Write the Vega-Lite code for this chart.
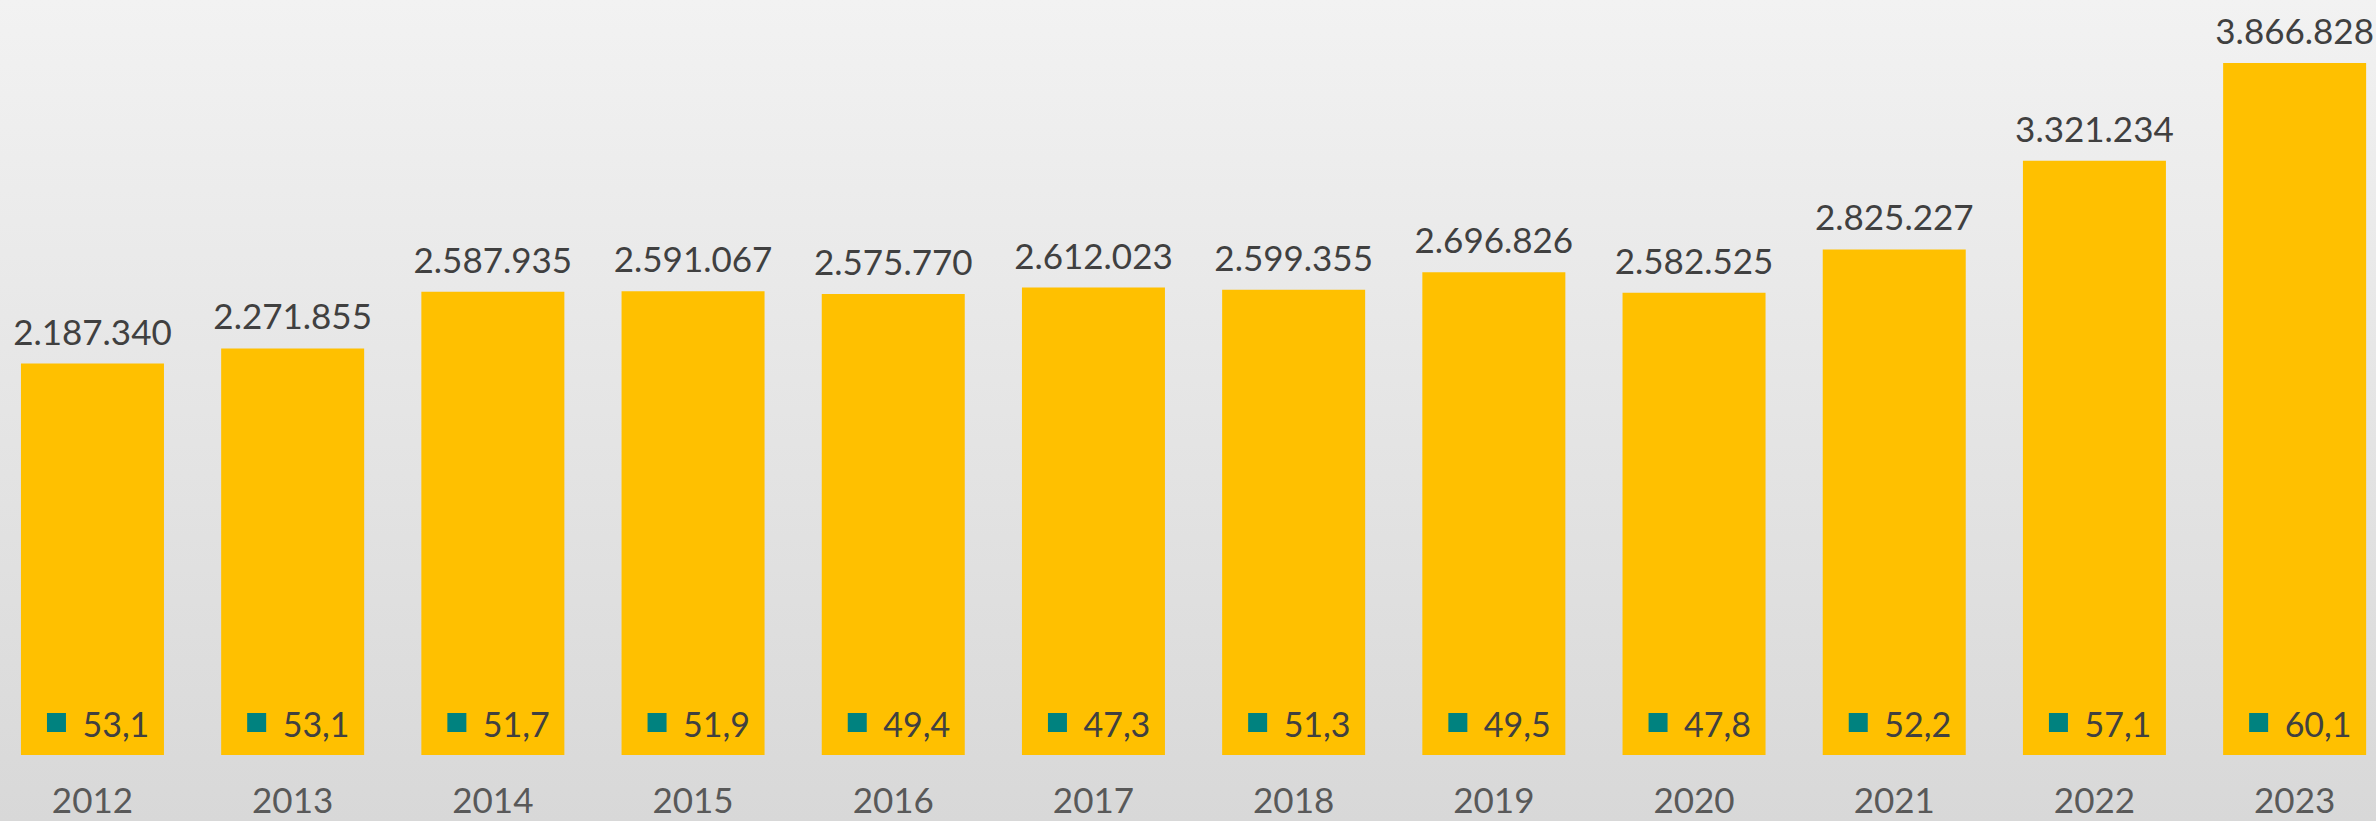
{
  "$schema": "https://vega.github.io/schema/vega-lite/v6.json",
  "width": 2376,
  "height": 821,
  "autosize": {"type": "none"},
  "padding": 0,
  "background": "#E2E2E2",
  "config": {
    "locale": {"number": {"decimal": ",", "thousands": ".", "grouping": [3], "currency": ["", " €"]}},
    "view": {
      "stroke": null,
      "fill": {"gradient": "linear", "x1": 0, "y1": 0, "x2": 0, "y2": 1,
        "stops": [{"offset": 0, "color": "#F2F2F2"}, {"offset": 1, "color": "#D8D8D8"}]}
    },
    "font": "Lato"
  },
  "data": {"values": [
    {"year": "2012", "total": 2187340, "share": 53.1},
    {"year": "2013", "total": 2271855, "share": 53.1},
    {"year": "2014", "total": 2587935, "share": 51.7},
    {"year": "2015", "total": 2591067, "share": 51.9},
    {"year": "2016", "total": 2575770, "share": 49.4},
    {"year": "2017", "total": 2612023, "share": 47.3},
    {"year": "2018", "total": 2599355, "share": 51.3},
    {"year": "2019", "total": 2696826, "share": 49.5},
    {"year": "2020", "total": 2582525, "share": 47.8},
    {"year": "2021", "total": 2825227, "share": 52.2},
    {"year": "2022", "total": 3321234, "share": 57.1},
    {"year": "2023", "total": 3866828, "share": 60.1}
  ]},
  "encoding": {
    "x": {"field": "year", "type": "nominal", "sort": null,
      "scale": {"paddingInner": 0.2857, "paddingOuter": 0.077, "align": 0.68},
      "axis": {"title": null, "domain": false, "ticks": false, "offset": -66,
        "labelFont": "Lato", "labelFontSize": 35, "labelColor": "#595959",
        "labelBaseline": "alphabetic", "labelPadding": 57, "labelAngle": 0}}
  },
  "layer": [
    {
      "mark": {"type": "bar", "color": "#FFC000"},
      "encoding": {
        "y": {"field": "total", "type": "quantitative",
          "scale": {"domain": [-368800, 4218800], "nice": false, "zero": false},
          "axis": null}
      }
    },
    {
      "mark": {"type": "text", "baseline": "alphabetic", "dy": -19, "fontSize": 35, "color": "#404040", "font": "Lato"},
      "encoding": {
        "y": {"field": "total", "type": "quantitative"},
        "text": {"field": "total", "type": "quantitative", "format": ",.0f"}
      }
    },
    {
      "mark": {"type": "point", "shape": "square", "filled": true, "opacity": 1, "size": 361, "color": "#00827F", "xOffset": -36, "yOffset": -32.5},
      "encoding": {
        "y": {"datum": 0, "type": "quantitative"}
      }
    },
    {
      "mark": {"type": "text", "baseline": "alphabetic", "align": "left", "dx": -10, "dy": -18, "fontSize": 34, "color": "#404040", "font": "Lato"},
      "encoding": {
        "y": {"datum": 0, "type": "quantitative"},
        "text": {"field": "share", "type": "quantitative", "format": ".1f"}
      }
    }
  ]
}
